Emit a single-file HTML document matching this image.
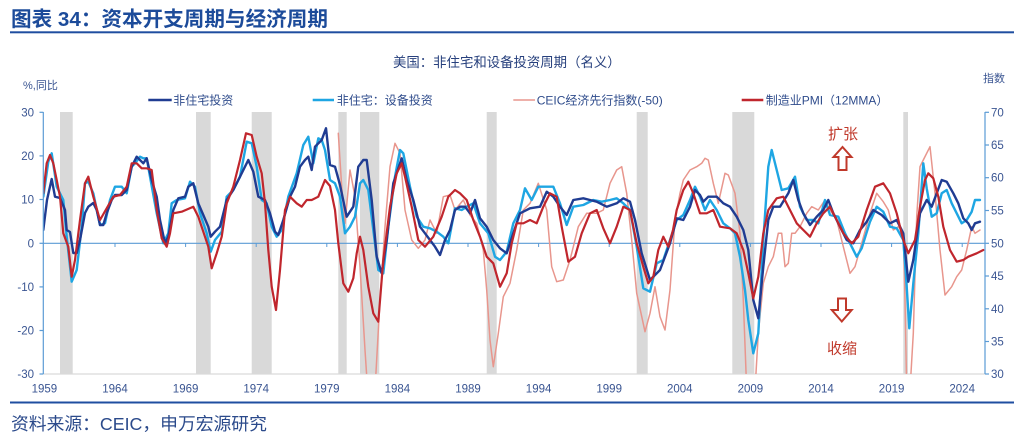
<!DOCTYPE html>
<html><head><meta charset="utf-8"><style>
html,body{margin:0;padding:0;background:#fff;width:1024px;height:435px;overflow:hidden}
svg{display:block}
text{font-family:"Liberation Sans","Noto Sans CJK SC",sans-serif}
</style></head><body>
<svg width="1024" height="435" viewBox="0 0 1024 435" xmlns="http://www.w3.org/2000/svg">
<defs><clipPath id="pc"><rect x="43.3" y="112" width="941.7" height="262"/></clipPath></defs>
<!-- title -->
<text x="11" y="25.8" font-size="20.6" font-weight="bold" fill="#1c4b9a">图表 34：资本开支周期与经济周期</text>
<rect x="10" y="31.3" width="1004" height="2" fill="#1f4ea0"/>
<!-- subtitle -->
<text x="393" y="66.8" font-size="13.4" fill="#27407d">美国：非住宅和设备投资周期（名义）</text>
<text x="23" y="89" font-size="11" fill="#3a5592">%,同比</text>
<text x="983" y="82" font-size="11" fill="#3a5592">指数</text>
<!-- legend -->
<g font-size="12" fill="#2f4c8c">
<line x1="148.3" y1="100" x2="171.7" y2="100" stroke="#203c92" stroke-width="2.5"/>
<text x="173.3" y="104.4">非住宅投资</text>
<line x1="312.7" y1="100" x2="334" y2="100" stroke="#1ea6e3" stroke-width="2.5"/>
<text x="336.7" y="104.4">非住宅：设备投资</text>
<line x1="513.3" y1="100" x2="535" y2="100" stroke="#e8968d" stroke-width="1.6"/>
<text x="536.7" y="104.4">CEIC经济先行指数(-50)</text>
<line x1="741.7" y1="100" x2="763.3" y2="100" stroke="#c0262d" stroke-width="2.5"/>
<text x="765.7" y="104.4">制造业PMI（12MMA）</text>
</g>
<!-- recession bars -->
<g fill="#d9d9d9">
<rect x="60" y="112" width="12.7" height="262"/>
<rect x="196" y="112" width="14.7" height="262"/>
<rect x="251.7" y="112" width="20" height="262"/>
<rect x="338.3" y="112" width="8.4" height="262"/>
<rect x="360" y="112" width="19.3" height="262"/>
<rect x="486.7" y="112" width="10" height="262"/>
<rect x="636.7" y="112" width="11" height="262"/>
<rect x="732.3" y="112" width="22" height="262"/>
<rect x="903.3" y="112" width="4.7" height="262"/>
</g>
<line x1="43.3" y1="374" x2="985" y2="374" stroke="#d9d9d9" stroke-width="1.2"/>
<line x1="43.3" y1="243.3" x2="985" y2="243.3" stroke="#5b9bd5" stroke-width="1.2"/>
<g stroke="#5b9bd5" stroke-width="1">
<line x1="115" y1="243.3" x2="115" y2="247"/><line x1="185.6" y1="243.3" x2="185.6" y2="247"/><line x1="256.2" y1="243.3" x2="256.2" y2="247"/><line x1="326.8" y1="243.3" x2="326.8" y2="247"/><line x1="397.4" y1="243.3" x2="397.4" y2="247"/><line x1="468" y1="243.3" x2="468" y2="247"/><line x1="538.6" y1="243.3" x2="538.6" y2="247"/><line x1="609.2" y1="243.3" x2="609.2" y2="247"/><line x1="679.8" y1="243.3" x2="679.8" y2="247"/><line x1="750.4" y1="243.3" x2="750.4" y2="247"/><line x1="821" y1="243.3" x2="821" y2="247"/><line x1="891.6" y1="243.3" x2="891.6" y2="247"/><line x1="962.2" y1="243.3" x2="962.2" y2="247"/>
</g>
<g clip-path="url(#pc)" fill="none" stroke-linejoin="round" stroke-linecap="round">
<polyline stroke="#e8968d" stroke-width="1.5" points="338.3,133.3 341.7,186.7 345,223.3 350,170 355,196.7 360,266.7 365,350 368.3,400 375,390 380,300 385,226.7 390,166.7 395,143.3 400,153.3 405,210 411.7,240 418.3,248.3 425,240 430,220 436.7,233.3 443.3,196.7 450,195 455,210 463.3,200 470,215 476.7,223.3 483.3,250 486.7,290 490,340 493.3,366.7 498.3,333.3 503.3,296.7 510,283.3 516.7,250 523.3,210 530,203.3 538.3,183.3 546.7,210 551.7,266.7 556.7,281.7 563.3,280 570,260 578.3,226.7 586.7,213.3 596.7,213.3 603.3,210 610,183.3 616.7,170 621.7,166.7 626.7,193.3 631.7,240 636.7,293.3 645,331.7 650,313.3 655,286.7 660,316.7 665,330 670,290 675,220 680,193.3 683.3,180 690,170 696.7,166.7 701.7,163.3 705,158.3 708.3,160 713.3,183.3 718.3,203.3 725,173.3 728.3,175 735,193.3 740,233.3 743.3,300 746.7,390 755,390 758.3,333.3 763.3,283.3 768.3,266.7 773.3,256.7 778.3,233.3 781.7,233.3 785,266.7 788.3,263.3 791.7,233.3 795,233.3 800,226.7 806.7,213.3 811.7,206.7 818.3,210 825,200 830,210 836.7,220 843.3,246.7 850,273.3 855,266.7 861.7,243.3 870,213.3 876.7,193.3 883.3,201.7 888.3,210 893.3,230 898.3,226.7 903.3,233.3 905,300 906.7,390 910,390 913.3,333.3 916.7,216.7 920,166.7 923.3,160 930,146.7 935,193.3 940,250 945,295 951.7,286.7 956.7,276.7 961.7,270 966.7,250 971.7,226.7 975,233.3 980,230"/>
<polyline stroke="#1ea6e3" stroke-width="2.4" points="43.3,196.7 48.3,161.7 51.7,153.3 56.7,186.7 63.3,200 66.7,236.7 71.7,281.7 76.7,270 81.7,226.7 85,183.3 88.3,181.7 93.3,193.3 100,225 105,223.3 110,200 115,186.7 121.7,186.7 126.7,193.3 131.7,166.7 135,163.3 140,156.7 143.3,158.3 146.7,158.3 150,176.7 156.7,213.3 163.3,243.3 168.3,233.3 171.7,203.3 176.7,200 185,198.3 190,181.7 195,186.7 200,213.3 206.7,233.3 210.7,251.7 215,240 221.7,231.7 226.7,196.7 233.3,190 240,176.7 246.7,141.7 251.7,143.3 256.7,166.7 261.7,200 266.7,203.3 271.7,226.7 276.7,236.7 281.7,230 288.3,196.7 296.7,173.3 303.3,145 308.3,136.7 313.3,163.3 318.3,138.3 321.7,140 325,150 330,180 335,183.3 340,196.7 345,233.3 350,226.7 355,216.7 360,183.3 363.3,180 368.3,190 373.3,230 378.3,270 383.3,273.3 388.3,226.7 395,176.7 400,150 403.3,153.3 410,186.7 416.7,216.7 423.3,226.7 430,228.3 436.7,231.7 443.3,236.7 448.3,243.3 455,208.3 461.7,210 466.7,206.7 473.3,203.3 480,223.3 488.3,233.3 495,256.7 500,260 506.7,251.7 513.3,223.3 520,210 525,188.3 531.7,200 538.3,186.7 546.7,186.7 553.3,186.7 560,203.3 566.7,225 573.3,206.7 583.3,205 593.3,200 601.7,201.7 610,200 616.7,198.3 623.3,203.3 630,210 636.7,246.7 643.3,288.3 650,291.7 656.7,263.3 663.3,260 670,240 676.7,220 683.3,215 690,200 695,186.7 700,196.7 705,210 710,200 716.7,210 723.3,223.3 730,228.3 735,233.3 740,256.7 745,290 748.3,320 753.3,353.3 758.3,333.3 763.3,240 768.3,166.7 771.7,150 776.7,170 781.7,190 788.3,188.3 795,176.7 800,206.7 806.7,220 813.3,220 818.3,223.3 825,200 830,215 838.3,216.7 845,233.3 851.7,246.7 856.7,256.7 861.7,248.3 870,221.7 876.7,206.7 883.3,211.7 890,226.7 896.7,228.3 903.3,240 906.7,286.7 909.3,328.3 913.3,283.3 918.3,233.3 923.3,163.3 926.7,188.3 931.7,216.7 936.7,213.3 941.7,193.3 946.7,190 951.7,203.3 956.7,213.3 961.7,223.3 966.7,220 971.7,211.7 975,200 980,200"/>
<polyline stroke="#203c92" stroke-width="2.4" points="43.3,230 47,200 51.7,179 55,196.7 60,198 65,210 66.7,230 70,232 73.3,253 76.7,253 80,240 85,213 88.3,206.7 93.3,203 96.7,210 100,225 103.3,225 106.7,213.3 111.7,200 115,195 121.7,195 126.7,190 131.7,166.7 136.7,156.7 140,160 143.3,163.3 146.7,158.3 151.7,180 156.7,196.7 160,220 165,243.3 168.3,236.7 173.3,210 178.3,198.3 185,196.7 188.3,186.7 193.3,183.3 198.3,203.3 203.3,215 208.3,226.7 210.7,236.7 215,231.7 220,226.7 226.7,200 233.3,190 240,176.7 248.3,160 253.3,171.7 258.3,196.7 265,200 270,213.3 275,231.7 278.3,235 283.3,220 290,196.7 295,186.7 300,166.7 305,160 308.3,156.7 311.7,170 315,146.7 321.7,140 326,128.3 330,165 335,166.7 340,185 346.7,216.7 353.3,206.7 358.3,166.7 363.3,160 366.7,160 371.7,200 376.7,256.7 381.7,273.3 386.7,240 393.3,183.3 401.7,158.3 406.7,180 413.3,200 420,226.7 425,233.3 430,240 435,246.7 440,255 445,240 450,230 455,210 460,206.7 465,206.7 470,213.3 475,200 480,218.3 486.7,226.7 493.3,240 500,248.3 506.7,253.3 513.3,233.3 520,213.3 530,208.3 540,206.7 546.7,191.7 553.3,196.7 560,206.7 566.7,215 573.3,200 583.3,198.3 590,200 596.7,201.7 606.7,206.7 616.7,203.3 623.3,198.3 630,201.7 635,220 641.7,253.3 650,280 660,270 670,243.3 676.7,218.3 683.3,220 690,206.7 695,190 700,195 703.3,201.7 708.3,196.7 716.7,196.7 723.3,203.3 730,206.7 736.7,216.7 743.3,230 748.3,250 753.3,300 758.3,318.3 763.3,266.7 768.3,220 773.3,206.7 780,206.7 788.3,193.3 793.3,180 798.3,200 803.3,213.3 810,225 816.7,216.7 823.3,210 828.3,200 833.3,213.3 840,226.7 846.7,240 853.3,243.3 860,230 866.7,221.7 873.3,210 881.7,215 890,223.3 896.7,220 903.3,233.3 908.3,281.7 913.3,260 920,213.3 926.7,200 931.7,206.7 936.7,193.3 941.7,180 946.7,181.7 953.3,193.3 958.3,203.3 963.3,218.3 968.3,223.3 971.7,230 975,223.3 980,221.7"/>
<polyline stroke="#c0262d" stroke-width="2.2" points="43.3,193.3 46.7,163.3 50,155 53.3,163.3 56.7,180 60,196.7 63.3,233.3 68.3,246.7 71.7,276.7 75,260 80,220 85,183.3 88.3,176.7 93.3,196.7 100,220 106.7,208.3 113.3,196.7 120,195 126.7,186.7 131.7,163.3 136.7,163.3 141.7,168.3 146.7,168.3 151.7,170 156.7,210 161.7,238.3 166.7,246.7 170,233.3 173.3,213.3 181.7,211.7 193.3,206.7 198.3,216.7 203.3,231.7 208.3,246.7 211.7,268.3 216.7,253.3 221.7,236.7 226.7,203.3 233.3,186.7 240,160 246,133.3 251.7,135 256.7,156.7 261.7,173.3 265,203.3 268.3,250 271.7,286.7 276,310 280,270 285,210 290,196.7 296.7,203.3 301.7,206.7 306.7,200 311.7,200 318.3,196.7 325,180 330,186 335,210 338.3,243.3 343.3,283.3 348.3,291.7 353.3,278.3 356.7,253.3 360,236.7 363.3,250 368.3,286.7 373.3,313.3 378.3,321.7 383.3,260 390,206.7 396.7,173.3 401.7,163.3 405,176.7 411.7,206.7 418.3,240 425,246.7 433.3,236.7 441.7,216.7 448.3,196.7 455,190 460,193.3 466.7,200 473.3,220 480,236.7 486.7,256.7 493.3,263.3 500,286.7 506.7,273.3 511.7,243.3 516.7,223.3 523.3,223.3 530,220 536.7,223.3 543.3,206.7 550,193.3 556.7,196.7 561.7,226.7 568.3,261.7 575,256.7 581.7,233.3 590,213.3 596.7,210 603.3,228.3 610,243.3 616.7,226.7 623.3,206.7 630,210 636.7,243.3 643.3,266.7 648.3,283.3 653.3,276.7 658.3,250 663.3,236.7 668.3,246.7 673,230 676.7,210 683.3,190 688.3,181.7 693.3,193.3 700,213.3 706.7,213.3 713.3,210 720,226.7 730,228.3 736.7,233.3 743.3,250 748.3,273.3 753.3,298.3 758.3,276.7 763.3,233.3 768.3,210 776.7,198.3 783.3,196.7 788.3,206.7 796.7,223.3 803.3,230 810,236.7 816.7,223.3 823.3,213.3 830,206.7 836.7,220 843.3,233.3 851.7,243.3 858.3,236.7 866.7,210 875,186.7 883.3,183.3 890,193.3 896.7,213.3 903.3,240 908.3,253.3 915,240 920,206.7 925,180 928.3,173.3 933.3,178.3 938.3,196.7 943.3,226.7 950,250 956.7,261.7 963.3,260 968.3,256.7 976.7,253.3 983.3,250"/>
</g>
<!-- axes -->
<g stroke="#5b9bd5" stroke-width="1.2">
<line x1="43.3" y1="112" x2="43.3" y2="374"/>
<line x1="985" y1="112" x2="985" y2="374"/>
<line x1="39.5" y1="112.3" x2="43.3" y2="112.3"/><line x1="39.5" y1="155.9" x2="43.3" y2="155.9"/><line x1="39.5" y1="199.5" x2="43.3" y2="199.5"/><line x1="39.5" y1="243.3" x2="43.3" y2="243.3"/><line x1="39.5" y1="286.9" x2="43.3" y2="286.9"/><line x1="39.5" y1="330.5" x2="43.3" y2="330.5"/><line x1="39.5" y1="374" x2="43.3" y2="374"/>
<line x1="985" y1="112.3" x2="989" y2="112.3"/><line x1="985" y1="145" x2="989" y2="145"/><line x1="985" y1="177.7" x2="989" y2="177.7"/><line x1="985" y1="210.5" x2="989" y2="210.5"/><line x1="985" y1="243.3" x2="989" y2="243.3"/><line x1="985" y1="276" x2="989" y2="276"/><line x1="985" y1="308.8" x2="989" y2="308.8"/><line x1="985" y1="341.5" x2="989" y2="341.5"/><line x1="985" y1="374" x2="989" y2="374"/>
</g>
<g font-size="11.5" fill="#3a5592" text-anchor="end">
<text x="34" y="116.3">30</text><text x="34" y="159.9">20</text><text x="34" y="203.5">10</text><text x="34" y="247.3">0</text><text x="34" y="290.9">-10</text><text x="34" y="334.5">-20</text><text x="34" y="378">-30</text>
</g>
<g font-size="11.5" fill="#3a5592">
<text x="991" y="116.3">70</text><text x="991" y="149">65</text><text x="991" y="181.7">60</text><text x="991" y="214.5">55</text><text x="991" y="247.3">50</text><text x="991" y="280">45</text><text x="991" y="312.8">40</text><text x="991" y="345.5">35</text><text x="991" y="378">30</text>
</g>
<g font-size="11.5" fill="#3a5592" text-anchor="middle">
<text x="44.4" y="392.3">1959</text><text x="115" y="392.3">1964</text><text x="185.6" y="392.3">1969</text><text x="256.2" y="392.3">1974</text><text x="326.8" y="392.3">1979</text><text x="397.4" y="392.3">1984</text><text x="468" y="392.3">1989</text><text x="538.6" y="392.3">1994</text><text x="609.2" y="392.3">1999</text><text x="679.8" y="392.3">2004</text><text x="750.4" y="392.3">2009</text><text x="821" y="392.3">2014</text><text x="891.6" y="392.3">2019</text><text x="962.2" y="392.3">2024</text>
</g>
<!-- annotations -->
<text x="828" y="139" font-size="15" fill="#c0392b">扩张</text>
<polygon points="842.5,147 833.5,157 838.5,157 838.5,170 846.5,170 846.5,157 851.5,157" fill="#fff" stroke="#c0392b" stroke-width="2" stroke-linejoin="miter"/>
<polygon points="838,298.5 846,298.5 846,310 851.7,310 841.8,321.5 831.8,310 838,310" fill="#fff" stroke="#c0392b" stroke-width="2" stroke-linejoin="miter"/>
<text x="827" y="353.7" font-size="15" fill="#c0392b">收缩</text>
<!-- bottom -->
<rect x="10" y="401.5" width="1004" height="2" fill="#1f4ea0"/>
<text x="11" y="430" font-size="17.8" fill="#2b4a8b">资料来源：CEIC，申万宏源研究</text>
</svg>
</body></html>
